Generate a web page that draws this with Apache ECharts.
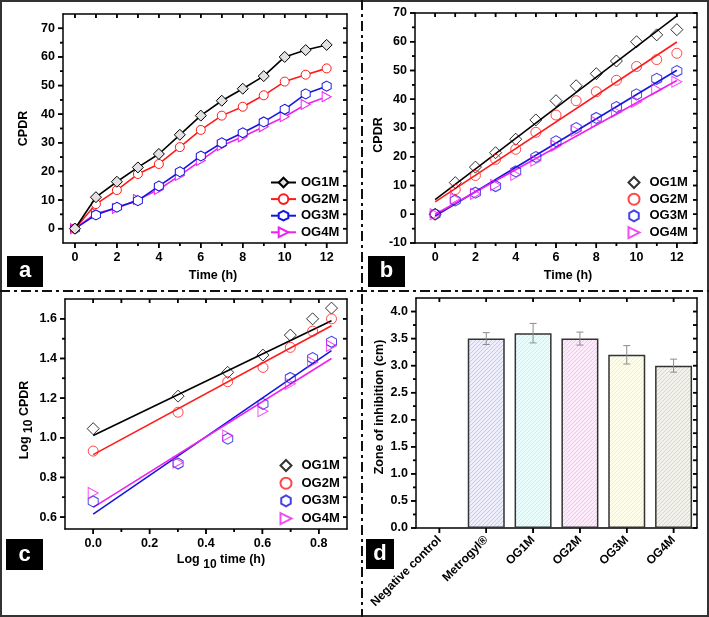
<!DOCTYPE html>
<html><head><meta charset="utf-8">
<script src="https://cdn.jsdelivr.net/npm/echarts@6/dist/echarts.min.js"></script>
<style>html,body{margin:0;padding:0;background:#fff}#c{width:709px;height:617px}</style>
</head><body><div id="c"></div>
<script>
// ---------- data ----------
const timeH = [0,1,2,3,4,5,6,7,8,9,10,11,12];
const og1m = [0, 11.0, 16.4, 21.4, 26.1, 32.8, 39.5, 44.7, 48.9, 53.3, 60.0, 62.4, 64.2];
const og2m = [0, 8.6, 13.5, 19.1, 22.6, 28.5, 34.5, 39.5, 42.6, 46.6, 51.4, 53.8, 56.0];
const og3m = [0, 4.8, 7.5, 9.8, 14.9, 19.9, 25.4, 30.0, 33.5, 37.3, 41.7, 47.1, 49.8];
const og4m = [0, 5.4, 7.1, 10.2, 13.7, 18.6, 23.8, 29.0, 32.1, 35.6, 39.1, 43.4, 46.1];

// linear fits in panel b (end points)
const fitBx = [0, 12];
const fitB1 = [5.1, 69.0];
const fitB2 = [4.3, 59.9];
const fitB3 = [-0.6, 50.1];
const fitB4 = [0.0, 46.5];

// panel c: log10 time vs log10 CPDR
const logT = [0, 0.301, 0.477, 0.602, 0.699, 0.778, 0.845];
const log1 = [1.046, 1.210, 1.330, 1.417, 1.518, 1.600, 1.654];
const log2 = [0.933, 1.129, 1.283, 1.355, 1.456, 1.538, 1.600];
const log3 = [0.679, 0.870, 0.995, 1.171, 1.302, 1.402, 1.484];
const log4 = [0.722, 0.875, 1.012, 1.134, 1.272, 1.381, 1.464];
const fitCx = [0, 0.845];
const fitC1 = [1.012, 1.590];
const fitC2 = [0.915, 1.565];
const fitC3 = [0.615, 1.440];
const fitC4 = [0.649, 1.400];

// panel d: zone of inhibition
const cats = ['Negative control', 'Metrogyl®', 'OG1M', 'OG2M', 'OG3M', 'OG4M'];
const zone = [0, 3.5, 3.6, 3.5, 3.2, 3.0];
const zoneErr = [0, 0.11, 0.18, 0.12, 0.17, 0.12];

// tick values
const ticksAx = [0,2,4,6,8,10,12], ticksAxMinor = [1,3,5,7,9,11];
const ticksAy = [0,10,20,30,40,50,60,70], ticksAyMinor = [5,15,25,35,45,55,65];
const ticksBy = [-10,0,10,20,30,40,50,60,70], ticksByMinor = [-5,5,15,25,35,45,55,65];
const ticksCx = [0,0.2,0.4,0.6,0.8], ticksCxMinor = [0.1,0.3,0.5,0.7];
const ticksCy = [0.6,0.8,1.0,1.2,1.4,1.6], ticksCyMinor = [0.7,0.9,1.1,1.3,1.5];
const ticksDx = [0,1,2,3,4,5];
const ticksDy = [0,0.5,1.0,1.5,2.0,2.5,3.0,3.5,4.0], ticksDyMinor = [0.25,0.75,1.25,1.75,2.25,2.75,3.25,3.75];
const stepAx = 2, stepAy = 10, stepBx = 2, stepBy = 10, stepCx = 0.2, stepCy = 0.2, stepDy = 0.5;

// ---------- style helpers ----------
const FF = '"Liberation Sans", Arial, Helvetica, sans-serif';
const lbl = {fontFamily: FF, fontWeight: 'bold', fontSize: 12.5, color: '#000'};
const isMult = (v, s) => Math.abs(v / s - Math.round(v / s)) < 1e-6;
const fmt0 = s => v => isMult(v, s) ? String(Math.round(v)) : '';
const fmt1 = s => v => isMult(v, s) ? (+v).toFixed(1) : '';
function rich(subLH) {
  return {
    a: {fontFamily: FF, fontWeight: 'bold', fontSize: 12.5, lineHeight: 14, verticalAlign: 'top', color: '#000'},
    s: {fontFamily: FF, fontWeight: 'bold', fontSize: 12, lineHeight: subLH, verticalAlign: 'bottom', color: '#000'}
  };
}
function axesPair(dim, g, min, max, step, split, name, nameGap, fmt, namePad, subLH) {
  const p1 = dim === 'x' ? 'bottom' : 'left', p2 = dim === 'x' ? 'top' : 'right';
  const common = {gridIndex: g, type: 'value', min, max, splitNumber: split, minInterval: step, maxInterval: step,
                  splitLine: {show: false}, axisTick: {show: false}, minorTick: {show: false}};
  return [
    Object.assign({}, common, {
      position: p1, name, nameLocation: 'middle', nameGap,
      nameTextStyle: Object.assign({}, lbl, {padding: namePad || 0, rich: rich(subLH || 20)}),
      axisLine: {show: true, onZero: false, lineStyle: {color: '#000', width: 1.5}},
      axisLabel: Object.assign({show: true, margin: 8, formatter: fmt}, lbl)
    }),
    Object.assign({}, common, {
      position: p2,
      axisLine: {show: true, onZero: false, lineStyle: {color: '#000', width: 1.5}},
      axisLabel: {show: false}
    })
  ];
}
// tick marks drawn through the axes' own scales (side: 0 bottom, 1 top, 2 left, 3 right)
function tickSeries(xi, yi, xMajor, xMinor, yMajor, yMinor, ext) {
  const data = [];
  xMajor.forEach(v => { data.push([0, v, 0, 5]); data.push([0, v, 1, 4]); });
  xMinor.forEach(v => { data.push([0, v, 0, 3]); data.push([0, v, 1, 4]); });
  yMajor.forEach(v => { data.push([0, v, 2, 5]); data.push([0, v, 3, 4]); });
  yMinor.forEach(v => { data.push([0, v, 2, 3]); data.push([0, v, 3, 4]); });
  return {
    name: 'ticks' + xi, type: 'custom', xAxisIndex: xi, yAxisIndex: yi, z: 30, animation: false,
    data,
    renderItem: function (params, api) {
      const v = api.value(1), side = api.value(2), len = api.value(3);
      let x1, y1, x2, y2, p;
      if (side === 0) {
        p = api.coord([v, ext.yMin]); x1 = x2 = p[0]; y1 = p[1]; y2 = y1 + len;
      } else if (side === 1) {
        p = api.coord([v, ext.yMax]); x1 = x2 = p[0]; y1 = p[1]; y2 = y1 + len;
      } else if (side === 2) {
        if (ext.cat) { p = api.coord([0, v]); x1 = p[0] - api.size([1, 0])[0] / 2; }
        else { p = api.coord([ext.xMin, v]); x1 = p[0]; }
        y1 = y2 = p[1]; x2 = x1 - len;
      } else {
        if (ext.cat) { p = api.coord([ext.nCat - 1, v]); x1 = p[0] + api.size([1, 0])[0] / 2; }
        else { p = api.coord([ext.xMax, v]); x1 = p[0]; }
        y1 = y2 = p[1]; x2 = x1 - len;
      }
      return {type: 'group', children: [
        {type: 'line', shape: {x1: x1, y1: y1, x2: x2, y2: y2}, style: {stroke: '#000', lineWidth: 1.5}}
      ]};
    }
  };
}

const HEX = 'path://M0,-10 L8.66,-5 L8.66,5 L0,10 L-8.66,5 L-8.66,-5 Z';
const TRI_R = 'path://M0,0 L10,5 L0,10 Z';
const SER = [
  {key: 'OG1M', color: '#000000', symbol: 'diamond', size: [11, 11], rot: 0, fillA: '#e2e2e2'},
  {key: 'OG2M', color: '#ff1a1a', symbol: 'circle', size: [9, 9], rot: 0, fillA: '#ffffff'},
  {key: 'OG3M', color: '#1515e0', symbol: HEX, size: [9, 10], rot: 0, fillA: '#ffffff'},
  {key: 'OG4M', color: '#ee22ee', symbol: TRI_R, size: [9, 10], rot: 0, fillA: '#ffffff'}
];
const aVals = [og1m, og2m, og3m, og4m];
const fitBv = [fitB1, fitB2, fitB3, fitB4];
const logV = [log1, log2, log3, log4];
const fitCv = [fitC1, fitC2, fitC3, fitC4];

function hatch(bg, fg) {
  const c = document.createElement('canvas');
  c.width = 4; c.height = 4;
  const g = c.getContext('2d');
  g.fillStyle = bg; g.fillRect(0, 0, 4, 4);
  g.strokeStyle = fg; g.lineWidth = 0.8;
  g.beginPath();
  g.moveTo(-1, 5); g.lineTo(5, -1);
  g.moveTo(-3, 3); g.lineTo(3, -3);
  g.moveTo(1, 7); g.lineTo(7, 1);
  g.stroke();
  return {image: c, repeat: 'repeat'};
}
const barFills = [
  hatch('#ffffff', '#ffffff'),
  hatch('#ededfc', '#bfbfea'),
  hatch('#eafdfd', '#b9efef'),
  hatch('#fdeafa', '#eebbe9'),
  hatch('#fdfdea', '#ebebc4'),
  hatch('#f2f2ea', '#d3d3bd')
];

// ---------- series ----------
const series = [];
SER.forEach((s, k) => {
  series.push({
    name: s.key, type: 'line', xAxisIndex: 0, yAxisIndex: 0, z: 10 - k,
    data: timeH.map((t, i) => [t, aVals[k][i]]),
    symbol: s.symbol, symbolSize: s.size, symbolRotate: s.rot,
    lineStyle: {color: s.color, width: 1.6},
    itemStyle: {color: s.fillA, borderColor: s.color, borderWidth: 1},
    emphasis: {disabled: true}, animation: false
  });
  series.push({
    name: s.key + '|b', type: 'scatter', xAxisIndex: 2, yAxisIndex: 2, z: 10,
    data: timeH.map((t, i) => [t, aVals[k][i]]),
    symbol: s.symbol, symbolSize: [s.size[0] + 1, s.size[1] + 1], symbolRotate: s.rot,
    itemStyle: {color: 'rgba(255,255,255,0)', borderColor: s.color, borderWidth: 1},
    emphasis: {disabled: true}, animation: false
  });
  series.push({
    name: 'fitb' + k, type: 'line', xAxisIndex: 2, yAxisIndex: 2, z: 5,
    data: fitBx.map((x, i) => [x, fitBv[k][i]]), symbol: 'none',
    lineStyle: {color: s.color, width: 1.6}, emphasis: {disabled: true}, animation: false
  });
  series.push({
    name: s.key + '|c', type: 'scatter', xAxisIndex: 4, yAxisIndex: 4, z: 10,
    data: logT.map((x, i) => [x, logV[k][i]]),
    symbol: s.symbol, symbolSize: [s.size[0] + 1, s.size[1] + 1], symbolRotate: s.rot,
    itemStyle: {color: 'rgba(255,255,255,0)', borderColor: s.color, borderWidth: 1},
    emphasis: {disabled: true}, animation: false
  });
  series.push({
    name: 'fitc' + k, type: 'line', xAxisIndex: 4, yAxisIndex: 4, z: 5,
    data: fitCx.map((x, i) => [x, fitCv[k][i]]), symbol: 'none',
    lineStyle: {color: s.color, width: 1.6}, emphasis: {disabled: true}, animation: false
  });
});
series.push({
  name: 'zone', type: 'bar', xAxisIndex: 6, yAxisIndex: 6, barWidth: 37,
  data: zone.map((v, i) => ({value: v, itemStyle: {color: barFills[i], borderColor: '#333', borderWidth: v > 0 ? 1.5 : 0}})),
  emphasis: {disabled: true}, animation: false
});
series.push({
  name: 'err', type: 'custom', xAxisIndex: 6, yAxisIndex: 6, z: 20,
  data: zone.map((v, i) => [i, v - zoneErr[i], v + zoneErr[i]]).filter((d, i) => zoneErr[i] > 0),
  renderItem: function (params, api) {
    const hi = api.coord([api.value(0), api.value(2)]);
    const lo = api.coord([api.value(0), api.value(1)]);
    const w = 3.5;
    const st = {stroke: '#8c8c8c', lineWidth: 1};
    return {type: 'group', children: [
      {type: 'line', shape: {x1: hi[0], y1: hi[1], x2: lo[0], y2: lo[1]}, style: st},
      {type: 'line', shape: {x1: hi[0] - w, y1: hi[1], x2: hi[0] + w, y2: hi[1]}, style: st},
      {type: 'line', shape: {x1: lo[0] - w, y1: lo[1], x2: lo[0] + w, y2: lo[1]}, style: st}
    ]};
  },
  animation: false
});
const extA = {xMin: -0.57, xMax: 12.97, yMin: -5, yMax: 75};
const extB = {xMin: -1, xMax: 13, yMin: -10, yMax: 70};
const extC = {xMin: -0.1, xMax: 0.9, yMin: 0.54, yMax: 1.7};
const extD = {cat: true, nCat: cats.length, yMin: 0, yMax: 4.25};
series.push(tickSeries(0, 0, ticksAx, ticksAxMinor, ticksAy, ticksAyMinor, extA));
series.push(tickSeries(2, 2, ticksAx, ticksAxMinor, ticksBy, ticksByMinor, extB));
series.push(tickSeries(4, 4, ticksCx, ticksCxMinor, ticksCy, ticksCyMinor, extC));
series.push(tickSeries(6, 6, ticksDx, [], ticksDy, ticksDyMinor, extD));

// ---------- axes ----------
const xAxis = [].concat(
  axesPair('x', 0, extA.xMin, extA.xMax, stepAx, 7, 'Time (h)', 26, fmt0(stepAx), [0, 0, 0, 16]),
  axesPair('x', 1, extB.xMin, extB.xMax, stepBx, 7, 'Time (h)', 26, fmt0(stepBx), [0, 0, 0, 24]),
  axesPair('x', 2, extC.xMin, extC.xMax, stepCx, 5, '{a|Log }{s|10}{a| time (h)}', 24, fmt1(stepCx), [0, 0, 0, 30], 18),
  [
    {gridIndex: 3, type: 'category', data: cats, position: 'bottom',
     axisLine: {show: true, onZero: false, lineStyle: {color: '#000', width: 1.5}},
     axisTick: {show: false},
     axisLabel: Object.assign({interval: 0, rotate: 45, margin: 10}, lbl, {fontSize: 12}),
     splitLine: {show: false}},
    {gridIndex: 3, type: 'category', data: cats, position: 'top',
     axisLine: {show: true, onZero: false, lineStyle: {color: '#000', width: 1.5}},
     axisTick: {show: false},
     axisLabel: {show: false}, splitLine: {show: false}}
  ]
);
const yAxis = [].concat(
  axesPair('y', 0, extA.yMin, extA.yMax, stepAy, 8, 'CPDR', 33, fmt0(stepAy), 0),
  axesPair('y', 1, extB.yMin, extB.yMax, stepBy, 8, 'CPDR', 30, fmt0(stepBy), [0, 14, 0, 0]),
  axesPair('y', 2, extC.yMin, extC.yMax, stepCy, 6, '{a|Log }{s|10}{a| CPDR}', 30, fmt1(stepCy), [0, 12, 0, 0], 16.5),
  axesPair('y', 3, extD.yMin, extD.yMax, stepDy, 9, 'Zone of inhibition (cm)', 30, fmt1(stepDy), [0, 0, 0, 12])
);

const legText = Object.assign({}, lbl, {fontSize: 13, lineHeight: 12});
const legFmt = n => n.split('|')[0];
const legData = suffix => SER.map(s => ({name: s.key + suffix, icon: s.symbol}));

const baseGraphic = [
  {type: 'rect', z: 100, shape: {x: 1, y: 1, width: 707, height: 615}, style: {fill: 'none', stroke: '#333', lineWidth: 2}},
  {type: 'line', z: 100, shape: {x1: 0, y1: 291, x2: 709, y2: 291}, style: {stroke: '#111', lineWidth: 2, lineDash: [10, 4, 3, 4]}},
  {type: 'line', z: 100, shape: {x1: 362, y1: 0, x2: 362, y2: 617}, style: {stroke: '#111', lineWidth: 2, lineDash: [10, 4, 3, 4]}},
  {type: 'rect', z: 100, shape: {x: 7, y: 256, width: 36, height: 31}, style: {fill: '#000'}},
  {type: 'text', z: 101, x: 25, y: 271, style: {text: 'a', fill: '#fff', font: 'bold 22px "Liberation Sans", Arial', textAlign: 'center', textVerticalAlign: 'middle', verticalAlign: 'middle'}},
  {type: 'rect', z: 100, shape: {x: 368, y: 256, width: 37, height: 31}, style: {fill: '#000'}},
  {type: 'text', z: 101, x: 386.5, y: 271, style: {text: 'b', fill: '#fff', font: 'bold 22px "Liberation Sans", Arial', textAlign: 'center', textVerticalAlign: 'middle', verticalAlign: 'middle'}},
  {type: 'rect', z: 100, shape: {x: 6, y: 539, width: 37, height: 31}, style: {fill: '#000'}},
  {type: 'text', z: 101, x: 24.5, y: 554.5, style: {text: 'c', fill: '#fff', font: 'bold 22px "Liberation Sans", Arial', textAlign: 'center', textVerticalAlign: 'middle', verticalAlign: 'middle'}},
  {type: 'rect', z: 100, shape: {x: 366, y: 539, width: 28, height: 30}, style: {fill: '#000'}},
  {type: 'text', z: 101, x: 380, y: 554, style: {text: 'd', fill: '#fff', font: 'bold 22px "Liberation Sans", Arial', textAlign: 'center', textVerticalAlign: 'middle', verticalAlign: 'middle'}}
];

const option = {
  backgroundColor: '#ffffff',
  animation: false,
  grid: [
    {left: 63, top: 14, width: 284, height: 229},
    {left: 415, top: 13, width: 282, height: 230},
    {left: 65, top: 299, width: 282, height: 230},
    {left: 416, top: 298, width: 281, height: 230}
  ],
  xAxis, yAxis,
  legend: [
    {data: SER.map(s => s.key), orient: 'vertical', left: 270, top: 176, padding: 0, itemWidth: 25, itemHeight: 12,
     itemGap: 3.6, textStyle: legText, formatter: legFmt, selectedMode: false},
    {data: legData('|b'), orient: 'vertical', left: 627.5, top: 176, padding: 0, itemWidth: 11, itemHeight: 11,
     itemGap: 3.7, textStyle: Object.assign({}, legText, {padding: [0, 0, 0, 5]}), formatter: legFmt, selectedMode: false},
    {data: legData('|c'), orient: 'vertical', left: 279.5, top: 459, padding: 0, itemWidth: 11, itemHeight: 11,
     itemGap: 4.7, textStyle: Object.assign({}, legText, {padding: [0, 0, 0, 5]}), formatter: legFmt, selectedMode: false}
  ],
  series,
  graphic: baseGraphic
};
const chart = echarts.init(document.getElementById('c'), null, {renderer: 'canvas'});
chart.setOption(option);

// extra tick marks placed with the axes' own pixel conversion (convertToPixel)
const tickEls = [];
function addTicks(xi, yi, xMajor, xMinor, yMajor, yMinor, ext) {
  const toX = v => chart.convertToPixel({xAxisIndex: xi}, v);
  const toY = v => chart.convertToPixel({yAxisIndex: yi}, v);
  let L, R;
  if (ext.cat) {
    const p0 = toX(cats[0]), p1 = toX(cats[1]);
    const bw = p1 - p0;
    L = p0 - bw / 2; R = toX(cats[cats.length - 1]) + bw / 2;
  } else { L = toX(ext.xMin); R = toX(ext.xMax); }
  const B = toY(ext.yMin), T = toY(ext.yMax);
  const line = (x1, y1, x2, y2) => {
    if ([x1, y1, x2, y2].some(n => typeof n !== 'number' || !isFinite(n))) return;
    tickEls.push({type: 'line', z: 99, silent: true, shape: {x1, y1, x2, y2}, style: {stroke: '#000', lineWidth: 1.5}});
  };
  xMajor.forEach(v => { const x = ext.cat ? toX(cats[v]) : toX(v); line(x, B, x, B + 5); line(x, T, x, T + 4); });
  xMinor.forEach(v => { const x = toX(v); line(x, B, x, B + 3); line(x, T, x, T + 4); });
  yMajor.forEach(v => { const y = toY(v); line(L, y, L - 5, y); line(R, y, R - 4, y); });
  yMinor.forEach(v => { const y = toY(v); line(L, y, L - 3, y); line(R, y, R - 4, y); });
}
try {
  addTicks(0, 0, ticksAx, ticksAxMinor, ticksAy, ticksAyMinor, extA);
  addTicks(2, 2, ticksAx, ticksAxMinor, ticksBy, ticksByMinor, extB);
  addTicks(4, 4, ticksCx, ticksCxMinor, ticksCy, ticksCyMinor, extC);
  addTicks(6, 6, ticksDx, [], ticksDy, ticksDyMinor, extD);
  chart.setOption({graphic: baseGraphic.concat(tickEls)});
} catch (e) { /* keep chart as is */ }
</script>
</body></html>
